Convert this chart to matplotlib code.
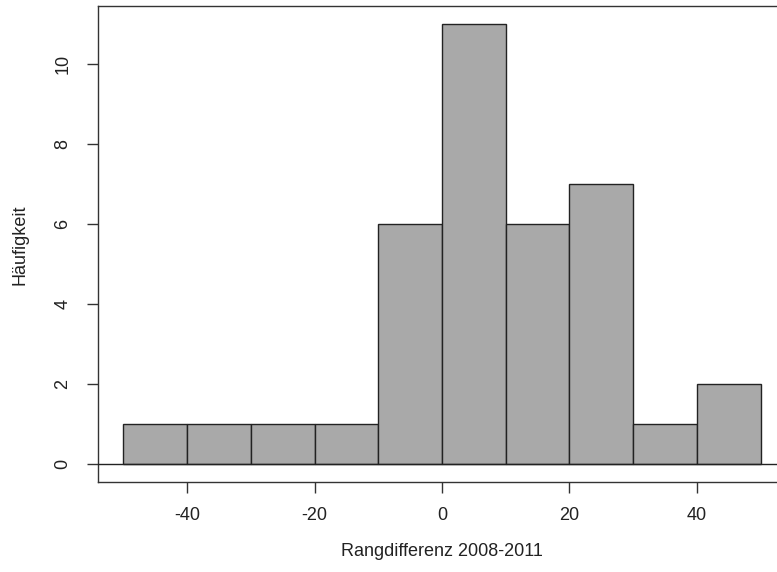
import matplotlib
matplotlib.use("Agg")
import matplotlib.pyplot as plt
import numpy as np

plt.rcParams['font.family'] = ['Liberation Sans', 'DejaVu Sans']

# Histogram of rank differences 2008-2011
bin_edges = [-50, -40, -30, -20, -10, 0, 10, 20, 30, 40, 50]
counts = [1, 1, 1, 1, 6, 11, 6, 7, 1, 2]
x_ticks = [-40, -20, 0, 20, 40]
y_ticks = [0, 2, 4, 6, 8, 10]
x_label = "Rangdifferenz 2008-2011"
y_label = "Häufigkeit"

W, H = 777, 572
fig = plt.figure(figsize=(W / 100, H / 100), dpi=100)
# plot region in pixels: left 98, right 786 (runs past the edge), top 6, bottom 482
ax = fig.add_axes([98 / W, (H - 482) / H, (786 - 98) / W, (482 - 6) / H])

edges = np.array(bin_edges)
ax.bar(edges[:-1], counts, width=np.diff(edges), align='edge',
       color='#A9A9A9', edgecolor='#222222', linewidth=1.0, zorder=2)
ax.axhline(0, color='#222222', linewidth=1.0, zorder=3)

ax.set_xlim(-54, 54)
ax.set_ylim(-0.44, 11.44)
ax.set_xticks(x_ticks)
ax.set_xticklabels([str(v) for v in x_ticks])
ax.set_yticks(y_ticks)
ax.set_yticklabels([str(v) for v in y_ticks], rotation=90, va='center')

for s in ['left', 'bottom', 'top', 'right']:
    ax.spines[s].set_color('#333333')
    ax.spines[s].set_linewidth(1.0)

ax.tick_params(axis='both', direction='out', length=8, width=1.0,
               color='#333333', labelsize=13, labelcolor='#222222')
ax.tick_params(axis='x', pad=10)
ax.tick_params(axis='y', pad=11)

fig.text(442 / W, 1 - 551 / H, x_label, ha='center', va='center',
         fontsize=13, color='#222222')
fig.text(20 / W, 1 - 245 / H, y_label, ha='center', va='center',
         rotation=90, fontsize=13, color='#222222')

fig.savefig("out.png", dpi=100)
